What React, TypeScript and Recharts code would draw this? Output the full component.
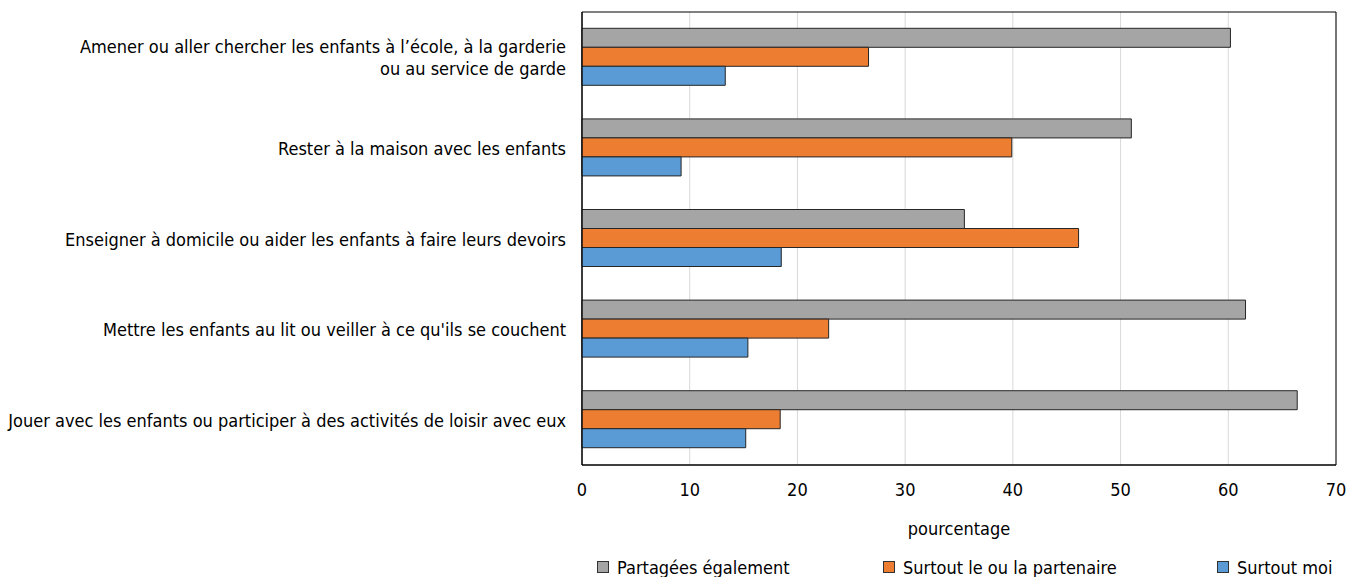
import React from 'react';
import {
  BarChart,
  Bar,
  XAxis,
  YAxis,
  CartesianGrid,
  Legend,
  ReferenceArea,
  Label
} from 'recharts';

const categories = [
  'Amener ou aller chercher les enfants à l’école, à la garderie\nou au service de garde',
  'Rester à la maison avec les enfants',
  'Enseigner à domicile ou aider les enfants à faire leurs devoirs',
  "Mettre les enfants au lit ou veiller à ce qu'ils se couchent",
  'Jouer avec les enfants ou participer à des activités de loisir avec eux'
];

const partagees = [60.2, 51.0, 35.5, 61.6, 66.4];
const partenaire = [26.6, 39.9, 46.1, 22.9, 18.4];
const moi = [13.3, 9.2, 18.5, 15.4, 15.2];

const xTicks = [0, 10, 20, 30, 40, 50, 60, 70];

const series = [
  { key: 'partagees', name: 'Partagées également', color: '#a5a5a5' },
  { key: 'partenaire', name: 'Surtout le ou la partenaire', color: '#ed7d31' },
  { key: 'moi', name: 'Surtout moi', color: '#5b9bd5' }
];

const data = categories.map((cat, i) => ({
  cat,
  partagees: partagees[i],
  partenaire: partenaire[i],
  moi: moi[i]
}));

const FONT = '"Liberation Sans Narrow", "DejaVu Sans Condensed", sans-serif';
const legendLeft = [0, 286, 620];

const CategoryTick = (props: any) => {
  const { x, y, payload } = props;
  const lines = String(payload.value).split('\n');
  const lh = 22;
  const y0 = y - ((lines.length - 1) * lh) / 2;
  return (
    <text x={x} y={y0} textAnchor="end" dominantBaseline="central" fontSize={18} fill="#000" fontFamily={FONT}>
      {lines.map((l, i) => (
        <tspan key={i} x={x} dy={i === 0 ? 0 : lh}>{l}</tspan>
      ))}
    </text>
  );
};

const LegendContent = () => (
  <div style={{ position: 'relative', height: 20, fontFamily: FONT, fontSize: 18, color: '#000' }}>
    {series.map((s, i) => (
      <div key={s.key} style={{ position: 'absolute', left: legendLeft[i], top: 0, display: 'flex', alignItems: 'center', height: 20, whiteSpace: 'nowrap' }}>
        <span style={{ display: 'inline-block', width: 10, height: 10, background: s.color, border: '1px solid #333', marginRight: 8 }} />
        <span>{s.name}</span>
      </div>
    ))}
  </div>
);

export default function App() {
  return (
    <div style={{ position: 'absolute', left: 0, top: 0, background: '#fff' }}>
      <BarChart
        width={1349}
        height={577}
        data={data}
        layout="vertical"
        margin={{ top: 12, right: 13, left: 0, bottom: 0 }}
        barCategoryGap="18%"
        barGap={0}
      >
        <CartesianGrid horizontal={false} stroke="#d9d9d9" />
        <XAxis
          type="number"
          domain={[0, 70]}
          ticks={xTicks}
          tickLine={false}
          axisLine={{ stroke: '#000' }}
          tickMargin={12}
          height={92}
          tick={{ fill: '#000', fontSize: 18, fontFamily: FONT }}
        >
          <Label value="pourcentage" position="insideBottom" offset={22} fill="#000" fontSize={18} fontFamily={FONT} />
        </XAxis>
        <YAxis
          type="category"
          dataKey="cat"
          width={582}
          tickLine={false}
          tickMargin={10}
          axisLine={{ stroke: '#000' }}
          tick={<CategoryTick />}
          interval={0}
        />
        {series.map((s) => (
          <Bar key={s.key} dataKey={s.key} name={s.name} fill={s.color} stroke="#262626" strokeWidth={1} isAnimationActive={false} />
        ))}
        <ReferenceArea x1={0} x2={70} fill="none" stroke="#000" strokeWidth={1} ifOverflow="visible" />
        <Legend
          verticalAlign="bottom"
          height={20}
          content={<LegendContent />}
          wrapperStyle={{ left: 597, width: 739 }}
        />
      </BarChart>
    </div>
  );
}
